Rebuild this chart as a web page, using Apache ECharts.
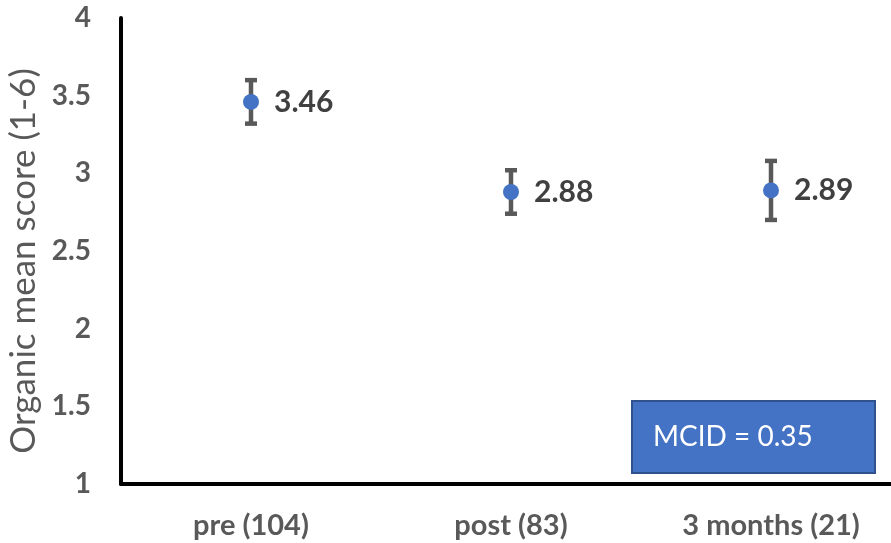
<!DOCTYPE html>
<html><head><meta charset="utf-8">
<script src="https://cdn.jsdelivr.net/npm/echarts@6/dist/echarts.min.js"></script>
<style>html,body{margin:0;padding:0;background:#fff}#c{width:891px;height:543px}</style>
</head><body><div id="c"></div>
<script>
const categories = ['pre (104)', 'post (83)', '3 months (21)'];
const means = [3.46, 2.88, 2.89];
const errors = [0.14, 0.14, 0.19];
const yTicks = [1, 1.5, 2, 2.5, 3, 3.5, 4];
const yTitle = 'Organic mean score (1-6)';
const noteText = 'MCID = 0.35';

const chart = echarts.init(document.getElementById('c'));
const FONT = 'Lato';
const errData = means.map((m, i) => [i, m - errors[i], m + errors[i]]);
chart.setOption({
  animation: false,
  grid: { left: 121, top: 18, width: 780, bottom: 59, outerBoundsMode: 'none', containLabel: false },
  xAxis: {
    type: 'category', data: categories, boundaryGap: true,
    axisLine: { lineStyle: { color: '#000', width: 4 } },
    axisTick: { show: false },
    axisLabel: { color: '#595959', fontFamily: FONT, fontWeight: 'bold', fontSize: 29, margin: 27 }
  },
  yAxis: {
    type: 'value', min: 1, max: 4, interval: 0.5,
    axisLine: { show: true, lineStyle: { color: '#000', width: 4 } },
    axisTick: { show: false },
    splitLine: { show: false },
    axisLabel: { color: '#595959', fontFamily: FONT, fontWeight: 'bold', fontSize: 28, margin: 30,
      formatter: v => yTicks.includes(v) ? String(v) : '' },
    name: yTitle, nameLocation: 'middle', nameGap: 78, nameRotate: 90,
    nameTextStyle: { color: '#595959', fontFamily: FONT, fontSize: 35, padding: [0, 20, 0, 0] }
  },
  series: [
    {
      type: 'custom',
      data: errData,
      renderItem: (params, api) => {
        const lo = api.coord([api.value(0), api.value(1)]);
        const hi = api.coord([api.value(0), api.value(2)]);
        const x = lo[0], hw = 6;
        const style = { stroke: '#595959', lineWidth: 4.5 };
        return { type: 'group', children: [
          { type: 'line', shape: { x1: x, y1: lo[1], x2: x, y2: hi[1] }, style },
          { type: 'line', shape: { x1: x - hw, y1: lo[1], x2: x + hw, y2: lo[1] }, style },
          { type: 'line', shape: { x1: x - hw, y1: hi[1], x2: x + hw, y2: hi[1] }, style }
        ]};
      },
      z: 2
    },
    {
      type: 'scatter', data: means, symbolSize: 16, z: 3,
      itemStyle: { color: '#4472C4', opacity: 1 },
      label: { show: true, position: 'right', distance: 15, color: '#404040', fontFamily: FONT,
        fontWeight: 'bold', fontSize: 30, formatter: p => p.value.toFixed(2) }
    }
  ],
  graphic: [
    { type: 'group', left: 631, top: 400, children: [
      { type: 'rect', shape: { x: 0, y: 0, width: 243, height: 72 },
        style: { fill: '#4472C4', stroke: '#2F528F', lineWidth: 2 } },
      { type: 'text', x: 21, y: 36, style: { text: noteText, fill: '#fff', fontFamily: FONT,
        fontSize: 28, verticalAlign: 'middle' } }
    ]}
  ]
});
</script></body></html>
